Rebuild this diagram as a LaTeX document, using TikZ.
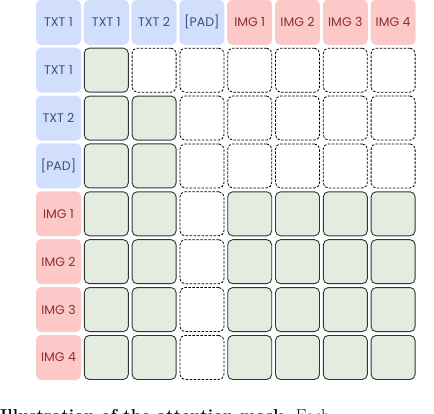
\documentclass[tikz,border=0pt]{standalone}
\usepackage{fontspec}
\newfontfamily\tokenfont{Poppins}
\usetikzlibrary{positioning}
\definecolor{txtfill}{HTML}{D2DFFC}
\definecolor{txtink}{HTML}{3D4E86}
\definecolor{imgfill}{HTML}{FDC9C8}
\definecolor{imgink}{HTML}{8E2F30}
\definecolor{keptfill}{HTML}{E4ECE0}
\definecolor{keptline}{HTML}{333333}
\tikzset{
txt token/.style = { rectangle, fill = txtfill, text = txtink, minimum size = 45pt, inner sep = 0pt, rounded corners = 5pt, font = \tokenfont\fontsize{12.5}{14}\selectfont },
img token/.style = { rectangle, fill = imgfill, text = imgink, minimum size = 45pt, inner sep = 0pt, rounded corners = 5pt, font = \tokenfont\fontsize{12.5}{14}\selectfont },
kept cell/.style = { rectangle, draw = keptline, fill = keptfill, line width = 0.9pt, minimum size = 44pt, inner sep = 0pt, rounded corners = 5pt },
masked cell/.style = { rectangle, draw = black, fill = white, line width = 0.8pt, dash pattern = on 2.5pt off 1.5pt, minimum size = 44pt, inner sep = 0pt, rounded corners = 5pt },
}

\begin{document}
\begin{tikzpicture}[x=1pt, y=-1pt]
      \useasboundingbox (0,0) rectangle (434,414);
      % key tokens (top row)
      \node[txt token] (k0) at (58.5,22.3) {TXT 1};
      \node[txt token] (k1) at (106.3,22.3) {TXT 1};
      \node[txt token] (k2) at (154.1,22.3) {TXT 2};
      \node[txt token] (k3) at (201.9,22.3) {[PAD]};
      \node[img token] (k4) at (249.7,22.3) {IMG 1};
      \node[img token] (k5) at (297.5,22.3) {IMG 2};
      \node[img token] (k6) at (345.3,22.3) {IMG 3};
      \node[img token] (k7) at (393.1,22.3) {IMG 4};
      % query tokens (left column)
      \node[txt token] (q1) at (58.5,70.2) {TXT 1};
      \node[txt token] (q2) at (58.5,118.1) {TXT 2};
      \node[txt token] (q3) at (58.5,165.9) {[PAD]};
      \node[img token] (q4) at (58.5,213.8) {IMG 1};
      \node[img token] (q5) at (58.5,261.7) {IMG 2};
      \node[img token] (q6) at (58.5,309.6) {IMG 3};
      \node[img token] (q7) at (58.5,357.5) {IMG 4};
      % mask cells
      \foreach \r in {1,...,7} {
        \foreach \c in {1,...,7} {
          \pgfmathtruncatemacro\kept{or(and(\c<=2,\c<=\r),and(\r>=4,\c>=4))}
          \ifnum\kept=1 \def\cellkind{kept cell}\else\def\cellkind{masked cell}\fi
          \node[\cellkind] (m\r\c) at ({58.5+47.8*\c},{22.3+47.88*\r}) {};
        }
      }
      % caption, cut by the page edge as in the source
      \node[anchor=base west, inner sep=0pt, font=\fontsize{17.2}{19}\selectfont] (caption) at (0,421) {\textbf{Illustration of the attention mask.} Each};
    \end{tikzpicture}
\end{document}
